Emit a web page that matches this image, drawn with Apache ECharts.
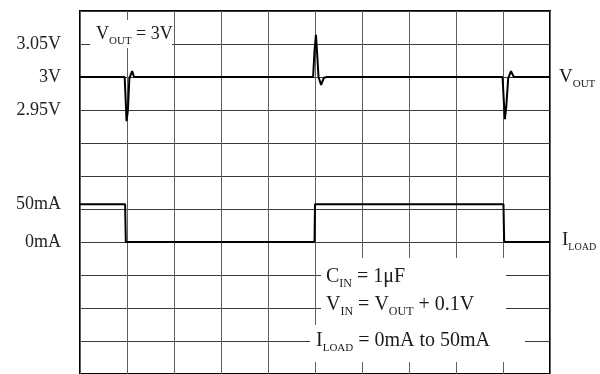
<!DOCTYPE html>
<html>
<head>
<meta charset="utf-8">
<script src="https://cdn.jsdelivr.net/npm/echarts@6.0.0/dist/echarts.min.js"></script>
<style>html,body{margin:0;padding:0;background:#fff}#c{width:600px;height:374px}</style>
</head>
<body>
<div id="c"></div>
<script>
// time in scope divisions (no time scale printed)
const voutTime = [0, 0.95, 0.975, 0.99, 1.02, 1.05, 1.11, 1.15, 1.17, 1.25, 4.96, 4.99, 5.02, 5.05, 5.075, 5.13, 5.19, 5.25, 8.99, 9.02, 9.04, 9.07, 9.11, 9.17, 9.23, 9.26, 9.3, 10];
const voutVolts = [3.0, 3.0, 2.96, 2.933, 2.95, 2.998, 3.009, 3.0, 2.998, 3.0, 3.0, 3.04, 3.064, 3.03, 3.0, 2.988, 2.999, 3.0, 3.0, 2.96, 2.936, 2.955, 2.998, 3.009, 3.0, 2.999, 3.0, 3.0];
const iloadTime = [0, 0.96, 0.975, 4.99, 5.0, 9.01, 9.025, 10];
const iloadMA = [50, 50, 0, 0, 50, 50, 0, 0];
const voltTickValues = [3.05, 3.0, 2.95];
const voltTickLabels = ['3.05V', '3V', '2.95V'];
const currTickValues = [50, 0];
const currTickLabels = ['50mA', '0mA'];

const FONT = 'Liberation Serif';
function styles(mainSize, subSize) {
  return {
    m: {fontFamily: FONT, fontSize: mainSize, lineHeight: 25, color: '#1a1a1a', fill: '#1a1a1a', verticalAlign: 'middle'},
    s: {fontFamily: FONT, fontSize: subSize, lineHeight: 13, color: '#1a1a1a', fill: '#1a1a1a', verticalAlign: 'bottom'}
  };
}
const richStyles = styles(20, 12);

function zip(a, b) { return a.map((v, i) => [v, b[i]]); }

const chart = echarts.init(document.getElementById('c'), null, {renderer: 'canvas'});
chart.setOption({
  animation: false,
  backgroundColor: '#fff',
  grid: {left: 80, top: 11, width: 470, height: 365, show: true, borderColor: '#000', borderWidth: 2, backgroundColor: 'transparent'},
  xAxis: {
    type: 'value', min: 0, max: 10, interval: 1,
    axisLine: {show: false}, axisTick: {show: false}, axisLabel: {show: false},
    splitLine: {show: true, lineStyle: {color: '#5f5f5f', width: 1}}
  },
  yAxis: [{
    type: 'value', min: 2.55, max: 3.10, interval: 0.05,
    axisLine: {show: false}, axisTick: {show: false},
    axisLabel: {
      show: true, margin: 19, customValues: voltTickValues,
      fontFamily: FONT, fontSize: 18, color: '#222',
      formatter: function (v) {
        for (let i = 0; i < voltTickValues.length; i++) if (Math.abs(v - voltTickValues[i]) < 1e-6) return voltTickLabels[i];
        return '';
      }
    },
    splitLine: {show: true, lineStyle: {color: '#3a3a3a', width: 1}}
  }, {
    type: 'value', min: -174.6, max: 305.7, position: 'left',
    axisLine: {show: false}, axisTick: {show: false}, splitLine: {show: false},
    axisLabel: {
      show: true, margin: 19, customValues: currTickValues,
      fontFamily: FONT, fontSize: 18, color: '#222',
      formatter: function (v) {
        for (let i = 0; i < currTickValues.length; i++) if (Math.abs(v - currTickValues[i]) < 1e-6) return currTickLabels[i];
        return '';
      }
    }
  }],
  series: [{
    name: 'VOUT', type: 'line', yAxisIndex: 0, data: zip(voutTime, voutVolts),
    symbol: 'none', lineStyle: {color: '#000', width: 2}, z: 5,
    endLabel: {show: true, distance: 9, formatter: '{m|V}{s|OUT}', rich: styles(19, 11), offset: [0, 0]}
  }, {
    name: 'ILOAD', type: 'line', yAxisIndex: 1, data: zip(iloadTime, iloadMA),
    symbol: 'none', lineStyle: {color: '#000', width: 2}, z: 5,
    endLabel: {show: true, distance: 12, formatter: '{m|I}{s|LOAD}', rich: styles(19, 10), offset: [0, -2]}
  }],
  graphic: [
    {type: 'rect', z: 50, shape: {x: 90, y: 20, width: 82, height: 28}, style: {fill: '#fff'}},
    {type: 'text', z: 51, x: 96, y: 34, style: {text: '{m|V}{s|OUT}{m| = 3V}', rich: styles(18, 11), verticalAlign: 'middle', align: 'left'}},
    {type: 'rect', z: 50, shape: {x: 321, y: 258, width: 185, height: 68}, style: {fill: '#fff'}},
    {type: 'rect', z: 50, shape: {x: 310, y: 325, width: 215, height: 37}, style: {fill: '#fff'}},
    {type: 'text', z: 51, x: 326, y: 277, style: {text: '{m|C}{s|IN}{m| = 1μF}', rich: richStyles, verticalAlign: 'middle', align: 'left'}},
    {type: 'text', z: 51, x: 326, y: 305, style: {text: '{m|V}{s|IN}{m| = V}{s|OUT}{m| + 0.1V}', rich: richStyles, verticalAlign: 'middle', align: 'left'}},
    {type: 'text', z: 51, x: 316, y: 341, style: {text: '{m|I}{s|LOAD}{m| = 0mA to 50mA}', rich: styles(20, 11), verticalAlign: 'middle', align: 'left'}}
  ]
});
</script>
</body>
</html>
